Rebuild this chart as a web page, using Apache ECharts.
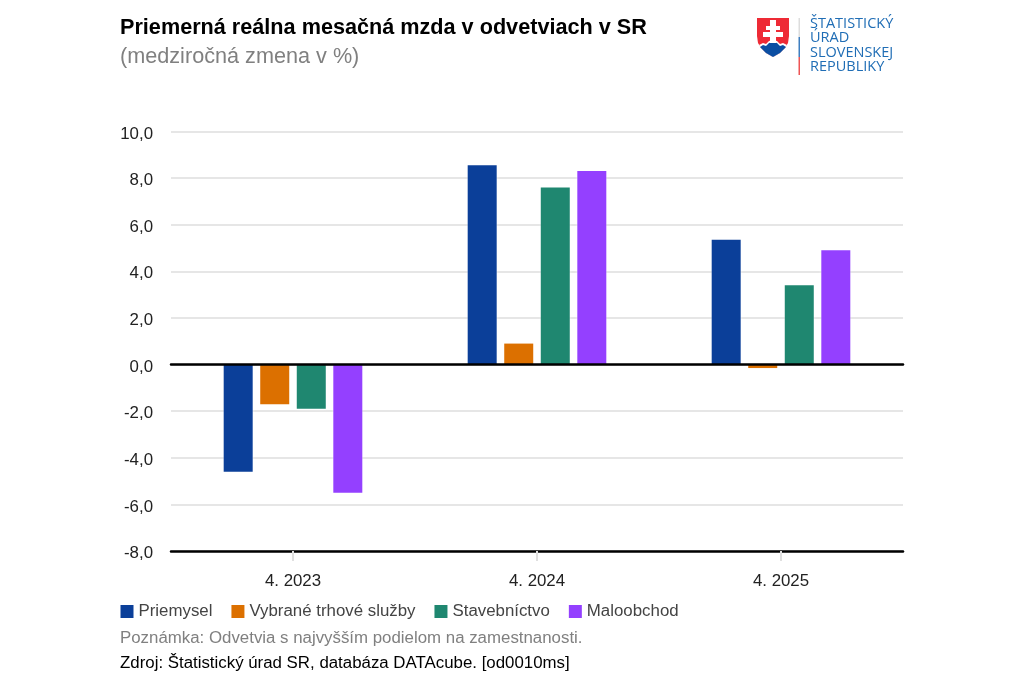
<!DOCTYPE html>
<html>
<head>
<meta charset="utf-8">
<style>
  html, body { margin: 0; padding: 0; background: #fff; }
  #chart { width: 1024px; height: 683px; }
</style>
<script src="https://cdn.jsdelivr.net/npm/echarts@6/dist/echarts.min.js"></script>
</head>
<body>
<div id="chart"></div>
<script>
var categories = ['4. 2023', '4. 2024', '4. 2025'];
var priemysel = [-4.6, 8.55, 5.35];
var sluzby = [-1.7, 0.9, -0.15];
var stavebnictvo = [-1.9, 7.6, 3.4];
var maloobchod = [-5.5, 8.3, 4.9];

var font = '"Liberation Sans", Arial, sans-serif';
var logoFont = '"Open Sans", "Noto Sans", sans-serif';
var logoBlue = '#1f6db5';
var textSize = 16.85;

function bar(name, values, color) {
    return {
        name: name,
        type: 'bar',
        data: values,
        barWidth: 29,
        barGap: '26%',
        itemStyle: { color: color, shadowColor: '#fff', shadowBlur: 3 }
    };
}

var chart = echarts.init(document.getElementById('chart'), null, { renderer: 'canvas' });

chart.setOption({
    animation: false,
    backgroundColor: '#fff',
    textStyle: { fontFamily: font },
    title: {
        text: 'Priemerná reálna mesačná mzda v odvetviach v SR',
        subtext: '(medziročná zmena v %)',
        left: 120,
        top: 17,
        padding: 0,
        itemGap: 7,
        textStyle: { fontFamily: font, fontSize: 21.65, fontWeight: 'bold', color: '#000' },
        subtextStyle: { fontFamily: font, fontSize: 21.65, color: '#808080' }
    },
    legend: {
        left: 120.5,
        top: 603,
        padding: 0,
        itemWidth: 13,
        itemHeight: 13,
        itemGap: 19,
        icon: 'rect',
        selectedMode: false,
        itemStyle: { borderWidth: 0 },
        textStyle: { fontFamily: font, fontSize: textSize, color: '#444' }
    },
    grid: { left: 171, right: 121, top: 131.5, bottom: 132 },
    xAxis: [
        {
            type: 'category',
            data: categories,
            position: 'bottom',
            z: 5,
            axisLine: { onZero: false, lineStyle: { color: '#000', width: 2.5 } },
            axisTick: { show: true, alignWithLabel: true, length: 10, lineStyle: { color: '#e0e0e0', width: 2 } },
            axisLabel: { color: '#222', fontSize: textSize, margin: 22, fontFamily: font }
        },
        {
            // ciara na nule
            type: 'category',
            data: categories,
            position: 'bottom',
            z: 5,
            axisLine: { onZero: true, lineStyle: { color: '#000', width: 2.5 } },
            axisTick: { show: false },
            axisLabel: { show: false }
        }
    ],
    yAxis: {
        type: 'value',
        min: -8,
        max: 10,
        interval: 2,
        axisLine: { show: false },
        axisTick: { show: false },
        splitLine: { lineStyle: { color: '#e6e6e6', width: 2 } },
        axisLabel: {
            margin: 18,
            formatter: function (v) { return '{v|' + v.toFixed(1).replace('.', ',') + '}'; },
            rich: {
                v: { color: '#222', fontSize: textSize, fontFamily: font, padding: [5, 0, 0, 0] }
            }
        }
    },
    series: [
        bar('Priemysel', priemysel, '#0b3f99'),
        bar('Vybrané trhové služby', sluzby, '#dc7000'),
        bar('Stavebníctvo', stavebnictvo, '#1f8770'),
        bar('Maloobchod', maloobchod, '#9440ff')
    ],
    graphic: [
        { type: 'text', x: 120, y: 630, style: { text: 'Poznámka: Odvetvia s najvyšším podielom na zamestnanosti.', font: textSize + 'px ' + font, fill: '#808080' } },
        { type: 'text', x: 120, y: 655, style: { text: 'Zdroj: Štatistický úrad SR, databáza DATAcube. [od0010ms]', font: textSize + 'px ' + font, fill: '#000' } },
        // logo
        { type: 'polygon', shape: { points: [[757, 18], [789, 18], [789, 36], [788, 43], [785, 48], [780, 53], [773, 57], [766, 53], [761, 48], [758, 43], [757, 36]] }, style: { fill: '#ee2a35' } },
        { type: 'polygon', shape: { points: [[759, 45], [763, 43], [766, 44], [769, 41], [773, 40], [777, 41], [780, 44], [783, 43], [787, 45], [785, 48], [780, 53], [773, 57], [766, 53], [761, 48]] }, style: { fill: '#fff' } },
        { type: 'polygon', shape: { points: [[760, 47], [763, 45], [766, 46], [769, 43], [773, 42], [777, 43], [780, 46], [783, 45], [786, 47], [780, 53], [773, 57], [766, 53]] }, style: { fill: '#0b4ea2' } },
        { type: 'polygon', shape: { points: [[770, 20], [776, 20], [776, 26], [780, 26], [780, 30], [776, 30], [776, 32], [783, 32], [783, 37], [776, 37], [776, 43], [770, 43], [770, 37], [763, 37], [763, 32], [770, 32], [770, 30], [766, 30], [766, 26], [770, 26]] }, style: { fill: '#fff' } },
        { type: 'rect', shape: { x: 798.5, y: 18, width: 1.5, height: 19 }, style: { fill: '#dddddd' } },
        { type: 'rect', shape: { x: 798.5, y: 37, width: 1.5, height: 20 }, style: { fill: '#3f7fc0' } },
        { type: 'rect', shape: { x: 798.5, y: 57, width: 1.5, height: 18 }, style: { fill: '#ee5555' } },
        { type: 'text', x: 810, y: 16, style: { text: 'ŠTATISTICKÝ', font: '14.5px ' + logoFont, fill: logoBlue } },
        { type: 'text', x: 810, y: 30.5, style: { text: 'ÚRAD', font: '14.5px ' + logoFont, fill: logoBlue } },
        { type: 'text', x: 810, y: 45, style: { text: 'SLOVENSKEJ', font: '14.5px ' + logoFont, fill: logoBlue } },
        { type: 'text', x: 810, y: 59.5, style: { text: 'REPUBLIKY', font: '14.5px ' + logoFont, fill: logoBlue } }
    ]
});
</script>
</body>
</html>
